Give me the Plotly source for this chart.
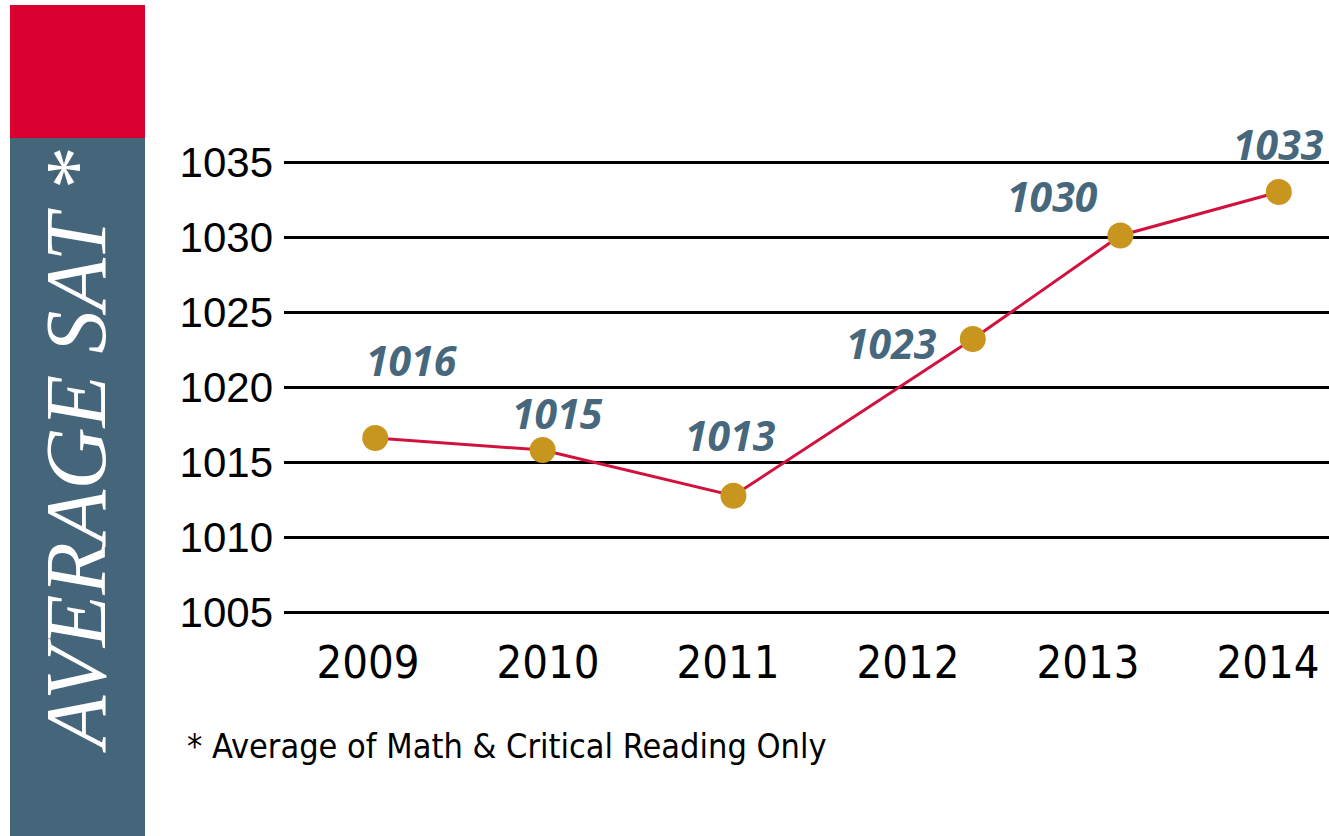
import plotly.graph_objects as go

# ---- data ----
years = [2009, 2010, 2011, 2012, 2013, 2014]
point_pos = [2009.04, 2009.97, 2011.03, 2012.36, 2013.18, 2014.06]   # horizontal placement of dots, in year units
sat_values = [1016.6, 1015.8, 1012.75, 1023.2, 1030.1, 1033.0]
value_labels = ["1016", "1015", "1013", "1023", "1030", "1033"]
y_ticks = [1005, 1010, 1015, 1020, 1025, 1030, 1035]
title_text = "AVERAGE SAT *"
footnote = "* Average of Math &amp; Critical Reading Only"

# label offsets (pixels) relative to each dot
label_dx = [37, 15, -3, -81, -68, 0]
label_dy = [78, 37, 61, -4, 40, 48]

RED = "#d9002f"
SLATE = "#45657a"
GOLD = "#c8961e"
LINE = "#d2123e"
LABEL = "#47677d"

fig = go.Figure()
fig.add_trace(go.Scatter(
    x=point_pos, y=sat_values, mode="lines+markers",
    line=dict(color=LINE, width=3),
    marker=dict(color=GOLD, size=26),
    hoverinfo="skip", showlegend=False,
))

for xv, yv, t, dx, dy in zip(point_pos, sat_values, value_labels, label_dx, label_dy):
    fig.add_annotation(
        x=xv, y=yv, text=f"<b><i>{t}</i></b>", showarrow=False,
        xshift=dx, yshift=dy, xanchor="center", yanchor="middle",
        font=dict(family="Noto Sans, Open Sans, sans-serif", size=41, color=LABEL),
    )

# left decorative panel
fig.add_shape(type="rect", xref="paper", yref="paper",
              x0=(10 - 284) / 1045, x1=(145 - 284) / 1045,
              y0=(640 - 138) / 540, y1=(640 - 5) / 540,
              fillcolor=RED, line=dict(width=0), layer="below")
fig.add_shape(type="rect", xref="paper", yref="paper",
              x0=(10 - 284) / 1045, x1=(145 - 284) / 1045,
              y0=(640 - 840) / 540, y1=(640 - 138) / 540,
              fillcolor=SLATE, line=dict(width=0), layer="below")
fig.add_annotation(
    xref="paper", yref="paper",
    x=(76 - 284) / 1045, y=(640 - 452) / 540,
    text=f"<i>{title_text}</i>", textangle=-90, showarrow=False,
    xanchor="center", yanchor="middle",
    font=dict(family="Liberation Serif, DejaVu Serif, serif", size=86, color="white"),
)
fig.add_annotation(
    xref="paper", yref="paper",
    x=(185 - 284) / 1045, y=(640 - 746) / 540,
    text=footnote, showarrow=False, xanchor="left", yanchor="middle",
    font=dict(family="Liberation Sans Narrow, DejaVu Sans Condensed, sans-serif", size=34, color="black"),
)

fig.update_xaxes(
    range=[2008.533, 2014.339], tickmode="array", tickvals=years,
    ticktext=[str(y) for y in years], showgrid=False, zeroline=False,
    showline=False, ticks="", ticklabelstandoff=-8,
    tickfont=dict(family="Liberation Sans Narrow, DejaVu Sans Condensed, sans-serif", size=45, color="black"),
)
fig.update_yaxes(
    range=[1003.133, 1039.133], tickmode="array", tickvals=y_ticks,
    showgrid=True, gridcolor="black", gridwidth=3, zeroline=False,
    showline=False, ticks="", ticklabelstandoff=10,
    tickfont=dict(family="Liberation Sans, Arial, sans-serif", size=42, color="black"),
)
fig.update_layout(
    width=1329, height=836,
    margin=dict(l=284, r=0, t=100, b=196),
    paper_bgcolor="white", plot_bgcolor="white",
    showlegend=False,
)
fig.write_html("out.html", config={"displayModeBar": False},
               post_script="document.body.style.margin='0px';")
